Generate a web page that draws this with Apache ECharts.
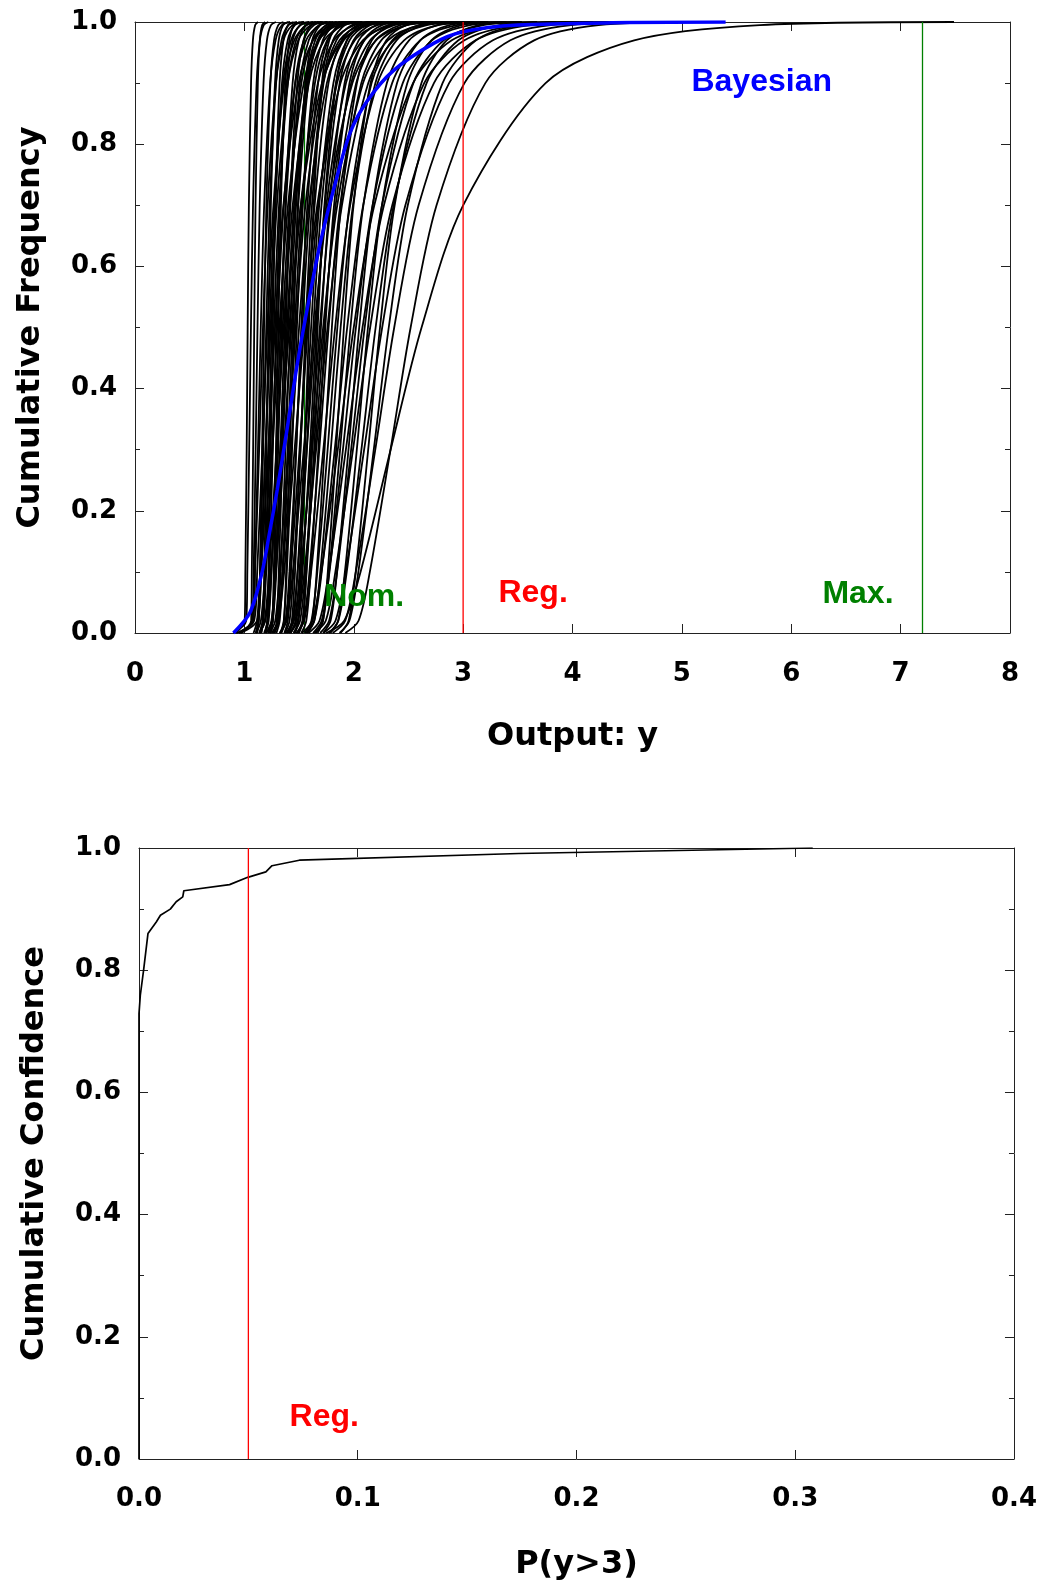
<!DOCTYPE html>
<html>
<head>
<meta charset="utf-8">
<script src="https://cdn.jsdelivr.net/npm/echarts@6/dist/echarts.min.js"></script>
<style>
html,body{margin:0;padding:0;background:#fff;}
#chart{width:1040px;height:1587px;}
</style>
</head>
<body>
<div id="chart"></div>
<script>
// ---------- DATA ----------
// cumulative levels at which each black curve's x-values were read
const levels = [0, 0.02, 0.1, 0.3, 0.5, 0.7, 0.9, 0.97, 0.995, 1];
// x positions (Output y) of each black CDF curve at the levels above
const curvesX = [
  [0.920,1.003,1.009,1.021,1.03,1.041,1.061,1.078,1.099,1.124],
  [0.900,1.017,1.027,1.044,1.06,1.079,1.112,1.142,1.177,1.219],
  [0.970,1.062,1.068,1.080,1.09,1.102,1.123,1.141,1.163,1.189],
  [0.950,1.074,1.085,1.103,1.12,1.140,1.175,1.206,1.243,1.288],
  [0.930,1.080,1.096,1.124,1.15,1.181,1.236,1.285,1.344,1.419],
  [1.117,1.132,1.143,1.162,1.18,1.201,1.238,1.271,1.310,1.357],
  [1.106,1.127,1.144,1.172,1.20,1.232,1.290,1.340,1.403,1.481],
  [1.155,1.170,1.182,1.202,1.22,1.242,1.280,1.314,1.354,1.403],
  [1.105,1.130,1.154,1.193,1.23,1.276,1.354,1.427,1.514,1.627],
  [1.153,1.174,1.191,1.221,1.25,1.284,1.344,1.396,1.461,1.543],
  [1.193,1.208,1.221,1.241,1.26,1.283,1.322,1.357,1.399,1.449],
  [1.140,1.167,1.191,1.232,1.27,1.317,1.398,1.473,1.563,1.680],
  [1.189,1.211,1.229,1.260,1.29,1.325,1.387,1.441,1.508,1.592],
  [1.136,1.170,1.200,1.252,1.30,1.360,1.465,1.564,1.686,1.845],
  [1.241,1.256,1.269,1.290,1.31,1.334,1.374,1.411,1.454,1.507],
  [1.194,1.222,1.248,1.290,1.33,1.379,1.464,1.543,1.637,1.760],
  [1.235,1.258,1.277,1.309,1.34,1.376,1.441,1.497,1.566,1.654],
  [1.180,1.215,1.246,1.300,1.35,1.412,1.521,1.624,1.751,1.916],
  [1.230,1.259,1.285,1.329,1.37,1.421,1.508,1.589,1.686,1.813],
  [1.272,1.296,1.315,1.348,1.38,1.417,1.484,1.541,1.613,1.703],
  [1.224,1.260,1.292,1.348,1.40,1.464,1.578,1.684,1.816,1.987],
  [1.275,1.305,1.332,1.377,1.42,1.473,1.563,1.647,1.748,1.879],
  [1.200,1.247,1.288,1.361,1.43,1.516,1.672,1.819,2.005,2.254],
  [1.337,1.362,1.382,1.417,1.45,1.489,1.559,1.620,1.695,1.789],
  [1.276,1.314,1.348,1.406,1.46,1.527,1.645,1.756,1.894,2.072],
  [1.329,1.360,1.388,1.436,1.48,1.535,1.629,1.717,1.822,1.958],
  [1.259,1.308,1.352,1.428,1.50,1.590,1.754,1.908,2.103,2.364],
  [1.337,1.377,1.412,1.473,1.53,1.600,1.724,1.841,1.984,2.171],
  [1.401,1.434,1.463,1.513,1.56,1.618,1.718,1.810,1.920,2.064],
  [1.326,1.378,1.424,1.504,1.58,1.675,1.847,2.010,2.215,2.490],
  [1.407,1.449,1.486,1.550,1.61,1.684,1.814,1.937,2.088,2.285],
  [1.322,1.386,1.443,1.543,1.64,1.763,1.988,2.204,2.486,2.872],
  [1.451,1.494,1.532,1.599,1.66,1.736,1.871,1.997,2.153,2.356],
  [1.418,1.474,1.523,1.609,1.69,1.791,1.976,2.150,2.369,2.663],
  [1.386,1.453,1.514,1.619,1.72,1.849,2.085,2.312,2.608,3.012],
  [1.521,1.566,1.606,1.676,1.74,1.820,1.961,2.093,2.257,2.469],
  [1.485,1.543,1.595,1.685,1.77,1.876,2.069,2.251,2.482,2.790],
  [1.475,1.546,1.610,1.722,1.83,1.967,2.218,2.460,2.774,3.204],
  [1.577,1.639,1.694,1.790,1.88,1.993,2.198,2.391,2.636,2.963],
  [1.564,1.639,1.707,1.826,1.94,2.086,2.351,2.607,2.941,3.397],
  [1.526,1.622,1.704,1.854,2.00,2.188,2.542,2.896,3.364,4.028],
  [1.720,1.788,1.847,1.952,2.05,2.173,2.396,2.608,2.874,3.231],
  [1.693,1.775,1.848,1.976,2.10,2.258,2.545,2.822,3.184,3.677],
  [1.640,1.744,1.832,1.993,2.15,2.352,2.733,3.113,3.616,4.330],
  [1.773,1.859,1.936,2.070,2.20,2.365,2.666,2.957,3.335,3.852],
  [1.724,1.833,1.926,2.095,2.26,2.472,2.872,3.272,3.801,4.552],
  [1.870,1.960,2.042,2.183,2.32,2.494,2.812,3.118,3.517,4.062],
  [1.808,1.922,2.019,2.197,2.37,2.593,3.012,3.432,3.986,4.773],
  [1.923,2.044,2.147,2.336,2.52,2.757,3.203,3.649,4.239,5.075],
  [1.748,1.913,2.062,2.337,2.62,3.000,3.754,4.564,5.714,7.488],
  [0.950,1.089,1.117,1.165,1.21,1.266,1.364,1.456,1.569,1.717],
  [0.970,1.116,1.153,1.219,1.28,1.357,1.496,1.628,1.795,2.017],
  [1.141,1.186,1.225,1.295,1.36,1.442,1.590,1.730,1.907,2.143],
  [1.136,1.191,1.241,1.327,1.41,1.516,1.709,1.895,2.138,2.469],
  [0.960,1.075,1.097,1.135,1.17,1.213,1.288,1.357,1.440,1.548],
  [1.233,1.282,1.324,1.399,1.47,1.558,1.718,1.870,2.061,2.317],
  [1.365,1.397,1.426,1.474,1.52,1.576,1.674,1.763,1.871,2.011],
  [1.249,1.310,1.364,1.459,1.55,1.666,1.879,2.083,2.350,2.714],
  [1.372,1.413,1.449,1.512,1.57,1.642,1.769,1.889,2.036,2.228],
  [1.466,1.493,1.515,1.553,1.59,1.633,1.709,1.776,1.859,1.962],
  [1.425,1.467,1.504,1.570,1.63,1.705,1.837,1.961,2.114,2.313],
  [1.384,1.439,1.487,1.571,1.65,1.749,1.929,2.099,2.313,2.600],
  [1.500,1.535,1.566,1.620,1.67,1.732,1.839,1.937,2.056,2.209],
  [1.486,1.530,1.569,1.637,1.70,1.778,1.916,2.045,2.205,2.412],
  [1.451,1.509,1.559,1.647,1.73,1.834,2.022,2.201,2.425,2.726],
  [1.419,1.487,1.549,1.656,1.76,1.892,2.133,2.365,2.668,3.082],
  [1.573,1.620,1.661,1.733,1.80,1.883,2.029,2.165,2.335,2.554],
  [1.552,1.613,1.667,1.761,1.85,1.961,2.163,2.353,2.594,2.916],
  [1.669,1.719,1.763,1.839,1.91,1.998,2.153,2.298,2.477,2.710],
  [1.653,1.718,1.775,1.875,1.97,2.088,2.303,2.506,2.762,3.105],
  [1.628,1.707,1.778,1.901,2.02,2.172,2.448,2.715,3.062,3.537],
  [1.587,1.687,1.772,1.928,2.08,2.276,2.644,3.012,3.499,4.189],
  [1.787,1.857,1.919,2.028,2.13,2.258,2.490,2.709,2.986,3.357],
  [1.879,1.953,2.018,2.132,2.24,2.374,2.619,2.849,3.140,3.530],
  [1.215,1.251,1.283,1.339,1.39,1.454,1.567,1.672,1.803,1.972],
  [1.293,1.323,1.351,1.397,1.44,1.493,1.585,1.670,1.773,1.905],
  [1.107,1.151,1.189,1.257,1.32,1.399,1.543,1.679,1.851,2.080],
  [1.084,1.116,1.145,1.194,1.24,1.297,1.397,1.492,1.608,1.760]
];
// Bayesian (blue) curve
const bayesX = [0.90,1.05,1.16,1.23,1.30,1.39,1.49,1.59,1.70,1.84,1.97,2.12,2.36,2.73,3.00,3.50,4.50,5.40];
const bayesY = [0,0.033,0.098,0.164,0.234,0.333,0.447,0.545,0.643,0.742,0.82,0.87,0.92,0.965,0.984,0.995,0.999,1.0];
// reference lines (Output y)
const nomX = 1.55, regX = 3, maxX = 7.2;
// bottom panel: cumulative confidence of P(y>3)
const confP = [0,0,0.0006,0.0021,0.0041,0.0079,0.0098,0.0143,0.017,0.020,0.0205,0.0414,0.0497,0.058,0.0608,0.0733,0.1736,0.308];
const confC = [0,0.729,0.759,0.80,0.86,0.879,0.89,0.90,0.912,0.92,0.93,0.94,0.952,0.961,0.971,0.98,0.991,1.0];
const regP = 0.05;
// tick labels
const topXTicks = ['0','1','2','3','4','5','6','7','8'];
const yTicks = ['0.0','0.2','0.4','0.6','0.8','1.0'];
const botXTicks = ['0.0','0.1','0.2','0.3','0.4'];

// ---------- CHART ----------
const chart = echarts.init(document.getElementById('chart'), null, {renderer:'canvas'});
const tickFont = 'DejaVu Sans';
const axCol = '#222';
function xAx(grid, max, interval, ticks, name, gap, margin, pos, show){
  return {
    type:'value', gridIndex:grid, min:0, max:max, interval:interval, position:pos,
    name: show?name:'', nameLocation:'middle', nameGap:gap,
    nameTextStyle:{fontFamily:tickFont,fontWeight:'bold',fontSize:32,color:'#000'},
    axisLine:{show:true,onZero:false,lineStyle:{color:axCol,width:1}},
    axisTick:{show:true,inside:true,length:9,lineStyle:{color:axCol}},
    axisLabel:{show:show,margin:margin,fontFamily:tickFont,fontWeight:'bold',fontSize:26,color:'#000',
      formatter:(v)=>ticks[Math.round(v/interval)]},
    splitLine:{show:false}
  };
}
function yAx(grid, name, gap, pos, show){
  return {
    type:'value', gridIndex:grid, min:0, max:1, interval:0.2, position:pos,
    name: show?name:'', nameLocation:'middle', nameGap:gap,
    nameTextStyle:{fontFamily:tickFont,fontWeight:'bold',fontSize:32,color:'#000'},
    axisLine:{show:true,onZero:false,lineStyle:{color:axCol,width:1}},
    axisTick:{show:true,inside:true,length:9,lineStyle:{color:axCol}},
    minorTick:{show:true,splitNumber:2,length:5,lineStyle:{color:axCol}},
    axisLabel:{show:show,margin:18,fontFamily:tickFont,fontWeight:'bold',fontSize:26,color:'#000',
      formatter:(v)=>yTicks[Math.round(v/0.2)]},
    splitLine:{show:false}
  };
}

const series = [];
// Nom. line (behind curves)
series.push({type:'line',xAxisIndex:0,yAxisIndex:0,data:[[nomX,0],[nomX,1]],symbol:'none',
  lineStyle:{color:'#008000',width:1.2},z:1,silent:true});
curvesX.forEach(c=>{
  series.push({type:'line',xAxisIndex:0,yAxisIndex:0,symbol:'none',smooth:0.3,
    data:c.map((x,i)=>[x,levels[i]]),lineStyle:{color:'#000',width:1.8},z:2,silent:true});
});
series.push({type:'line',xAxisIndex:0,yAxisIndex:0,symbol:'none',smooth:0.3,
  data:bayesX.map((x,i)=>[x,bayesY[i]]),lineStyle:{color:'#0000ff',width:3.5},z:3,silent:true});
series.push({type:'line',xAxisIndex:0,yAxisIndex:0,data:[[regX,0],[regX,1]],symbol:'none',
  lineStyle:{color:'#ff0000',width:1.3},z:4,silent:true});
series.push({type:'line',xAxisIndex:0,yAxisIndex:0,data:[[maxX,0],[maxX,1]],symbol:'none',
  lineStyle:{color:'#008000',width:1.3},z:4,silent:true});
function lab(xi, yi, x, y, text, color){
  return {type:'scatter',xAxisIndex:xi,yAxisIndex:yi,symbolSize:0,data:[[x,y]],z:5,silent:true,
    itemStyle:{opacity:1},
    label:{show:true,position:'inside',formatter:text,color:color,opacity:1,textBorderWidth:0,
      fontFamily:'Liberation Sans, Arial',fontWeight:'bold',fontSize:32}};
}
series.push(lab(0,0,2.095,0.059,'Nom.','#008000'));
series.push(lab(0,0,3.64,0.066,'Reg.','#ff0000'));
series.push(lab(0,0,6.61,0.064,'Max.','#008000'));
series.push(lab(0,0,5.73,0.902,'Bayesian','#0000ff'));
// bottom panel
series.push({type:'line',xAxisIndex:2,yAxisIndex:2,symbol:'none',
  data:confP.map((x,i)=>[x,confC[i]]),lineStyle:{color:'#000',width:1.7},z:3,silent:true});
series.push({type:'line',xAxisIndex:2,yAxisIndex:2,data:[[regP,0],[regP,1]],symbol:'none',
  lineStyle:{color:'#ff0000',width:1.3},z:4,silent:true});
series.push(lab(2,2,0.0847,0.069,'Reg.','#ff0000'));

chart.setOption({
  animation:false,
  backgroundColor:'#fff',
  grid:[
    {left:135,top:22,width:875,height:611,show:false},
    {left:139,top:848,width:875,height:611,show:false}
  ],
  xAxis:[
    xAx(0,8,1,topXTicks,'Output: y',88,28,'bottom',true),
    xAx(0,8,1,topXTicks,'',0,28,'top',false),
    xAx(1,0.4,0.1,botXTicks,'P(y>3)',90,27,'bottom',true),
    xAx(1,0.4,0.1,botXTicks,'',0,27,'top',false)
  ],
  yAxis:[
    yAx(0,'Cumulative Frequency',88,'left',true),
    yAx(0,'',0,'right',false),
    yAx(1,'Cumulative Confidence',88,'left',true),
    yAx(1,'',0,'right',false)
  ],
  series:series
});
</script>
</body>
</html>
